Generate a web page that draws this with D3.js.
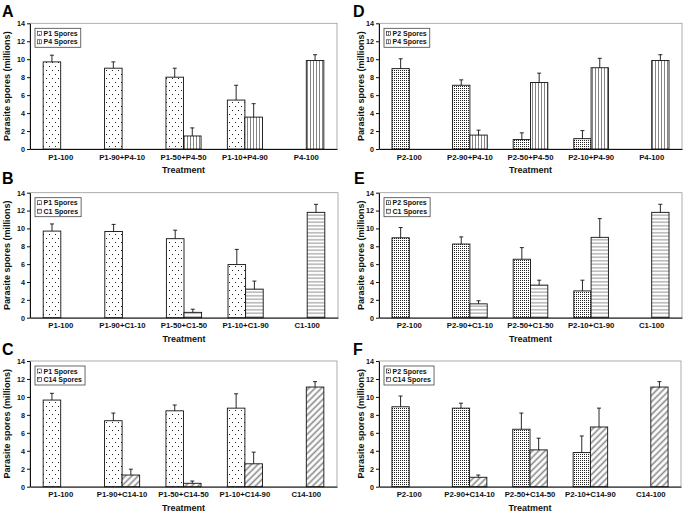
<!DOCTYPE html>
<html>
<head>
<meta charset="utf-8">
<script src="https://cdn.jsdelivr.net/npm/d3@7"></script>
<style>
  body { margin: 0; background: #fff; }
  svg { display: block; font-family: "Liberation Sans", Arial, sans-serif; font-weight: bold; }
</style>
</head>
<body>
<svg id="chart" width="685" height="513"></svg>
<script>
// ---- data ----
const yTicks = [0, 2, 4, 6, 8, 10, 12, 14];

const catsA = ["P1-100", "P1-90+P4-10", "P1-50+P4-50", "P1-10+P4-90", "P4-100"];
const seriesA = ["P1 Spores", "P4 Spores"];
const valsA = [[9.7, 9.0, 8.0, 5.45, 0], [0, 0, 1.45, 3.55, 9.85]];
const errsA = [[0.75, 0.7, 1.0, 1.65, 0], [0, 0, 0.9, 1.5, 0.65]];

const catsB = ["P1-100", "P1-90+C1-10", "P1-50+C1-50", "P1-10+C1-90", "C1-100"];
const seriesB = ["P1 Spores", "C1 Spores"];
const valsB = [[9.7, 9.65, 8.85, 5.95, 0], [0, 0, 0.6, 3.2, 11.8]];
const errsB = [[0.8, 0.8, 0.95, 1.7, 0], [0, 0, 0.35, 0.9, 0.9]];

const catsC = ["P1-100", "P1-90+C14-10", "P1-50+C14-50", "P1-10+C14-90", "C14-100"];
const seriesC = ["P1 Spores", "C14 Spores"];
const valsC = [[9.65, 7.35, 8.45, 8.75, 0], [0, 1.3, 0.38, 2.55, 11.1]];
const errsC = [[0.75, 0.85, 0.65, 1.6, 0], [0, 0.65, 0.25, 1.3, 0.6]];

const catsD = ["P2-100", "P2-90+P4-10", "P2-50+P4-50", "P2-10+P4-90", "P4-100"];
const seriesD = ["P2 Spores", "P4 Spores"];
const valsD = [[8.95, 7.1, 1.05, 1.15, 0], [0, 1.55, 7.4, 9.05, 9.85]];
const errsD = [[1.1, 0.6, 0.75, 0.9, 0], [0, 0.55, 1.05, 1.05, 0.65]];

const catsE = ["P2-100", "P2-90+C1-10", "P2-50+C1-50", "P2-10+C1-90", "C1-100"];
const seriesE = ["P2 Spores", "C1 Spores"];
const valsE = [[8.95, 8.25, 6.55, 3.0, 0], [0, 1.55, 3.65, 9.0, 11.8]];
const errsE = [[1.15, 0.8, 1.3, 1.2, 0], [0, 0.35, 0.55, 2.1, 0.9]];

const catsF = ["P2-100", "P2-90+C14-10", "P2-50+C14-50", "P2-10+C14-90", "C14-100"];
const seriesF = ["P2 Spores", "C14 Spores"];
const valsF = [[8.9, 8.75, 6.4, 3.8, 0], [0, 1.05, 4.1, 6.65, 11.1]];
const errsF = [[1.2, 0.55, 1.8, 1.85, 0], [0, 0.25, 1.3, 2.1, 0.6]];

// ---- layout ----
const panels = [
  { label: "A", cats: catsA, series: seriesA, vals: valsA, errs: errsA, x0: 30, x1: 337, yt: 23.3, yb: 149, lx: 2, ly: 17, tx: 10 },
  { label: "B", cats: catsB, series: seriesB, vals: valsB, errs: errsB, x0: 30, x1: 338, yt: 192.7, yb: 317.7, lx: 2, ly: 184, tx: 10 },
  { label: "C", cats: catsC, series: seriesC, vals: valsC, errs: errsC, x0: 30, x1: 337, yt: 361, yb: 486.7, lx: 2, ly: 355, tx: 10 },
  { label: "D", cats: catsD, series: seriesD, vals: valsD, errs: errsD, x0: 379, x1: 682, yt: 23.3, yb: 149, lx: 353, ly: 17, tx: 364 },
  { label: "E", cats: catsE, series: seriesE, vals: valsE, errs: errsE, x0: 379, x1: 682, yt: 192.7, yb: 317.7, lx: 354, ly: 184, tx: 364 },
  { label: "F", cats: catsF, series: seriesF, vals: valsF, errs: errsF, x0: 379, x1: 681, yt: 361, yb: 486.7, lx: 353, ly: 355, tx: 364 },
];

const svg = d3.select("#chart");
const defs = svg.append("defs");

function makePattern(id, w, h, transform) {
  const p = defs.append("pattern")
    .attr("id", id)
    .attr("patternUnits", "userSpaceOnUse")
    .attr("width", w)
    .attr("height", h);
  if (transform) p.attr("patternTransform", transform);
  p.append("rect").attr("width", w).attr("height", h).attr("fill", "#fff");
  return p;
}

// P1: sparse dots
let p = makePattern("pat-P1", 6, 8);
p.append("rect").attr("x", 1).attr("y", 2).attr("width", 1).attr("height", 1).attr("fill", "#222");
p.append("rect").attr("x", 4).attr("y", 6).attr("width", 1).attr("height", 1).attr("fill", "#222");
// P2: dense dots
p = makePattern("pat-P2", 2, 2);
p.append("rect").attr("x", 0).attr("y", 0).attr("width", 1).attr("height", 1).attr("fill", "#222");
// P4: vertical lines
p = makePattern("pat-P4", 3, 10);
p.append("line").attr("x1", 1.5).attr("x2", 1.5).attr("y1", 0).attr("y2", 10)
  .attr("stroke", "#777").attr("stroke-width", 0.9);
// C1: horizontal lines
p = makePattern("pat-C1", 10, 3.5);
p.append("line").attr("x1", 0).attr("x2", 10).attr("y1", 1.75).attr("y2", 1.75)
  .attr("stroke", "#666").attr("stroke-width", 0.8);
// C14: diagonal hatch
p = makePattern("pat-C14", 4.5, 10, "rotate(45)");
p.append("line").attr("x1", 2.25).attr("x2", 2.25).attr("y1", 0).attr("y2", 10)
  .attr("stroke", "#8a8a8a").attr("stroke-width", 1.6);

function fillFor(name) {
  return "url(#pat-" + name.split(" ")[0] + ")";
}

function drawPanel(pn) {
  const g = svg.append("g");

  const x = d3.scaleBand().domain(pn.cats).range([pn.x0, pn.x1]).padding(0);
  const xs = d3.scaleBand().domain(pn.series).range([0, x.bandwidth()])
    .paddingInner(0).paddingOuter(0.75);
  const y = d3.scaleLinear().domain([0, 14]).range([pn.yb, pn.yt]);

  // plot frame
  g.append("rect")
    .attr("x", pn.x0).attr("y", pn.yt)
    .attr("width", pn.x1 - pn.x0).attr("height", pn.yb - pn.yt)
    .attr("fill", "none").attr("stroke", "#9a9a9a").attr("stroke-width", 0.8);

  // bars + error bars
  pn.series.forEach((s, si) => {
    const rows = pn.cats.map((c, ci) => ({ c, v: pn.vals[si][ci], e: pn.errs[si][ci] }))
      .filter((d) => d.v > 0);

    g.selectAll(null)
      .data(rows)
      .join("rect")
      .attr("x", (d) => x(d.c) + xs(s))
      .attr("y", (d) => y(d.v))
      .attr("width", xs.bandwidth())
      .attr("height", (d) => y(0) - y(d.v))
      .attr("fill", fillFor(s))
      .attr("stroke", "#111")
      .attr("stroke-width", 0.9);

    const eg = g.selectAll(null).data(rows.filter((d) => d.e > 0)).join("g");
    eg.append("line")
      .attr("x1", (d) => x(d.c) + xs(s) + xs.bandwidth() / 2)
      .attr("x2", (d) => x(d.c) + xs(s) + xs.bandwidth() / 2)
      .attr("y1", (d) => y(d.v))
      .attr("y2", (d) => y(d.v + d.e))
      .attr("stroke", "#111").attr("stroke-width", 0.9);
    eg.append("line")
      .attr("x1", (d) => x(d.c) + xs(s) + xs.bandwidth() / 2 - 2)
      .attr("x2", (d) => x(d.c) + xs(s) + xs.bandwidth() / 2 + 2)
      .attr("y1", (d) => y(d.v + d.e))
      .attr("y2", (d) => y(d.v + d.e))
      .attr("stroke", "#111").attr("stroke-width", 0.9);
  });

  // y axis
  const ya = g.append("g")
    .attr("transform", `translate(${pn.x0},0)`)
    .call(d3.axisLeft(y).tickValues(yTicks).tickSize(3).tickSizeOuter(0).tickPadding(2));
  ya.select(".domain").attr("stroke", "#111");
  ya.selectAll(".tick line").attr("stroke", "#111");
  ya.selectAll("text").attr("font-size", 7.2).attr("font-weight", "bold")
    .attr("font-family", '"Liberation Sans", Arial, sans-serif').attr("fill", "#111");

  // x axis
  const xa = g.append("g")
    .attr("transform", `translate(0,${pn.yb})`)
    .call(d3.axisBottom(x).tickSize(0).tickPadding(5));
  xa.select(".domain").attr("stroke", "#111");
  xa.selectAll("text").attr("font-size", 7.75).attr("font-weight", "bold")
    .attr("font-family", '"Liberation Sans", Arial, sans-serif').attr("fill", "#111");

  // axis titles
  g.append("text")
    .attr("x", (pn.x0 + pn.x1) / 2).attr("y", pn.yb + 24)
    .attr("text-anchor", "middle").attr("font-size", 9).attr("fill", "#111")
    .text("Treatment");
  g.append("text")
    .attr("transform", `translate(${pn.tx},${(pn.yt + pn.yb) / 2}) rotate(-90)`)
    .attr("text-anchor", "middle").attr("font-size", 9).attr("fill", "#111")
    .text("Parasite spores (millions)");

  // panel letter
  g.append("text")
    .attr("x", pn.lx).attr("y", pn.ly)
    .attr("font-size", 16).attr("fill", "#000")
    .text(pn.label);

  // legend
  const lg = g.append("g").attr("transform", `translate(${pn.x0 + 5},${pn.yt + 5})`);
  const box = lg.append("rect").attr("fill", "#fff").attr("stroke", "#444").attr("stroke-width", 0.8);
  let maxW = 0;
  pn.series.forEach((s, si) => {
    lg.append("rect")
      .attr("x", 2.5).attr("y", 3 + si * 8.5)
      .attr("width", 4).attr("height", 4)
      .attr("fill", fillFor(s)).attr("stroke", "#222").attr("stroke-width", 0.6);
    const t = lg.append("text")
      .attr("x", 8.5).attr("y", 7.5 + si * 8.5)
      .attr("font-size", 7).attr("fill", "#111")
      .text(s);
    maxW = Math.max(maxW, t.node().getComputedTextLength());
  });
  box.attr("width", 8.5 + maxW + 3).attr("height", 19);
}

panels.forEach(drawPanel);
</script>
</body>
</html>
